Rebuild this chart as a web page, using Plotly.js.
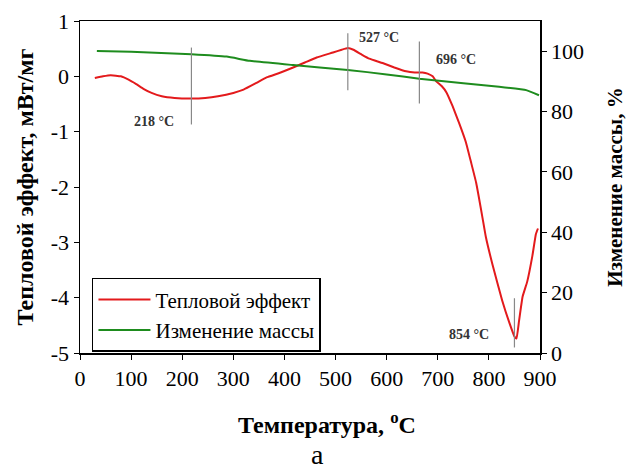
<!DOCTYPE html>
<html>
<head>
<meta charset="utf-8">
<script src="https://cdn.plot.ly/plotly-3.0.1.min.js"></script>
<style>html,body{margin:0;padding:0;background:#fff;}#chart{width:628px;height:472px;}</style>
</head>
<body>
<div id="chart"></div>
<script>
// Heat effect (DSC), mW/mg
const heatT = [29,45,60,80,95,110,125,140,160,185,218,245,270,300,320,345,365,390,417,440,463,495,512,524,535,550,566,592,615,638,655,670,680,690,697,708,717,729,742,755,765,775,787,794,807,826,840,850,854,859,866,875,885,892,896];
const heatV = [-0.03,0.0,0.02,0.0,-0.06,-0.14,-0.23,-0.30,-0.36,-0.39,-0.40,-0.39,-0.36,-0.30,-0.24,-0.12,-0.02,0.06,0.16,0.25,0.34,0.43,0.48,0.51,0.48,0.40,0.32,0.24,0.16,0.09,0.07,0.07,0.05,0.0,-0.09,-0.18,-0.29,-0.54,-0.85,-1.19,-1.55,-1.92,-2.53,-2.9,-3.4,-4.05,-4.45,-4.70,-4.74,-4.42,-3.98,-3.71,-3.25,-2.85,-2.75];
// Mass change (TG), %
const massT = [33,100,218,287,332,417,469,524,600,664,750,820,873,898];
const massV = [100.1,99.8,99.0,98.2,96.8,95.4,94.6,93.8,92.3,90.9,89.4,88.2,87.1,85.4];
// Axis ticks
const xTicks = [0,100,200,300,400,500,600,700,800,900];
const yTicks = [-5,-4,-3,-2,-1,0,1];
const yTickText = ["-5","-4","-3","-2","-1","0","1"];
const y2Ticks = [0,20,40,60,80,100];
// Peak markers
const peakLabels = ["218 °C","527 °C","696 °C","854 °C"];
const peakX = [218,524,664,850];
const peakY0 = [-0.87,-0.25,-0.49,-4.9];
const peakY1 = [0.52,0.78,0.63,-4.01];
const labelX = [145,585,735,762];
const labelY = [-0.82,0.70,0.30,-4.67];

const SERIF = "'Liberation Serif', 'Times New Roman', Times, serif";

const traces = [
  {x: heatT, y: heatV, name: "Тепловой эффект", type: "scatter", mode: "lines",
   line: {color: "#e31a1c", width: 2, shape: "spline", smoothing: 0.35}},
  {x: massT, y: massV, name: "Изменение массы", type: "scatter", mode: "lines", yaxis: "y2",
   line: {color: "#1e8c1e", width: 2, shape: "spline", smoothing: 0.3}}
];

const shapes = peakX.map((px, i) => ({
  type: "line", xref: "x", yref: "y", x0: px, x1: px, y0: peakY0[i], y1: peakY1[i],
  line: {color: "#888", width: 1.2}
}));

const annotations = peakLabels.map((t, i) => ({
  text: "<b>" + t + "</b>", x: labelX[i], y: labelY[i], xref: "x", yref: "y",
  showarrow: false, font: {family: SERIF, size: 14, color: "#333"}
}));
annotations.push({text: "<b>Температура, <sup>o</sup>C</b>", xref: "paper", yref: "paper",
  x: 0.537, y: -0.211, xanchor: "center", yanchor: "middle",
  showarrow: false, font: {family: SERIF, size: 24, color: "#000"}});
annotations.push({text: "a", xref: "paper", yref: "paper", x: 0.517, y: -0.307,
  xanchor: "center", yanchor: "middle",
  showarrow: false, font: {family: SERIF, size: 28, color: "#000"}});

const axisFont = () => ({family: SERIF, size: 22, color: "#000"});

const layout = {
  width: 628, height: 472,
  margin: {l: 80, r: 88, t: 21, b: 119},
  paper_bgcolor: "#fff", plot_bgcolor: "#fff",
  font: {family: SERIF},
  showlegend: true,
  legend: {x: 0.026, y: 0.226, xanchor: "left", yanchor: "top",
    bordercolor: "#000", borderwidth: 1.5, bgcolor: "#fff", itemwidth: 52,
    font: {family: SERIF, size: 21, color: "#000"},
    tracegroupgap: 0},
  xaxis: {range: [0, 900], tickvals: xTicks, showgrid: false, zeroline: false,
    showline: true, linecolor: "#000", linewidth: 1.5, mirror: true,
    ticks: "outside", ticklen: 5, tickcolor: "#000", tickfont: axisFont()},
  yaxis: {range: [-5, 1], tickvals: yTicks, ticktext: yTickText, showgrid: false, zeroline: false,
    showline: true, linecolor: "#000", linewidth: 1.5,
    ticks: "outside", ticklen: 5, tickcolor: "#000", tickfont: axisFont(),
    title: {text: "<b>Тепловой эффект, мВт/мг</b>", font: {family: SERIF, size: 24, color: "#000"}, standoff: 10}},
  yaxis2: {range: [0, 110], tickvals: y2Ticks, overlaying: "y", side: "right",
    showgrid: false, zeroline: false, showline: true, linecolor: "#000", linewidth: 1.5,
    ticks: "outside", ticklen: 5, tickcolor: "#000", tickfont: axisFont(),
    title: {text: "<b>Изменение массы, %</b>", font: {family: SERIF, size: 21, color: "#000"}, standoff: 24}},
  shapes: shapes,
  annotations: annotations
};

Plotly.newPlot("chart", traces, layout, {staticPlot: true});
</script>
</body>
</html>
